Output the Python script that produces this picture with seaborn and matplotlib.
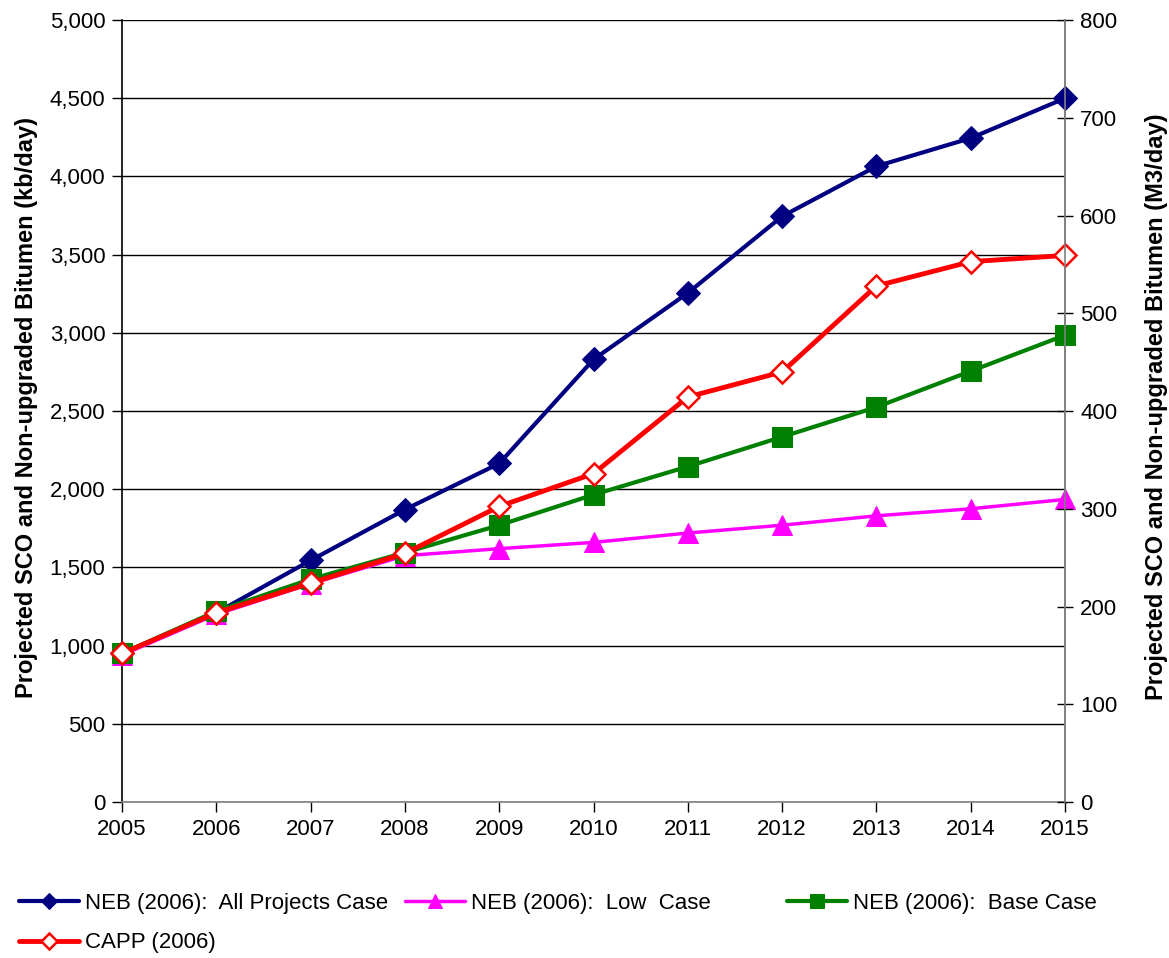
import matplotlib
matplotlib.use("Agg")
import matplotlib.pyplot as plt
from matplotlib.ticker import FuncFormatter, MultipleLocator
import seaborn as sns
import pandas as pd

years = [2005, 2006, 2007, 2008, 2009, 2010, 2011, 2012, 2013, 2014, 2015]
neb_all_projects = [950, 1210, 1545, 1870, 2165, 2830, 3255, 3745, 4065, 4245, 4500]
neb_low = [940, 1200, 1395, 1575, 1620, 1660, 1720, 1770, 1830, 1875, 1935]
neb_base = [950, 1220, 1425, 1595, 1770, 1965, 2145, 2335, 2525, 2755, 2985]
capp = [950, 1210, 1400, 1590, 1890, 2100, 2590, 2750, 3300, 3455, 3495]

labels = ["NEB (2006):  All Projects Case", "NEB (2006):  Low  Case",
          "NEB (2006):  Base Case", "CAPP (2006)"]

sns.set_theme(style="white")
plt.rcParams["font.family"] = ["Liberation Sans", "DejaVu Sans"]
plt.rcParams.update({"text.color": "black", "axes.labelcolor": "black",
                     "xtick.color": "black", "ytick.color": "black"})

df = pd.DataFrame({"year": years, "all": neb_all_projects, "low": neb_low,
                   "base": neb_base, "capp": capp})

fig = plt.figure(figsize=(11.69, 9.58), dpi=100)
ax = fig.add_axes([0.1044, 0.1628, 0.8067, 0.8163])

styles = [
    ("all", dict(color="#000080", lw=3.0, marker="D", markersize=12,
                 markerfacecolor="#000080", markeredgecolor="#000080")),
    ("low", dict(color="#FF00FF", lw=2.5, marker="^", markersize=15,
                 markerfacecolor="#FF00FF", markeredgecolor="#FF00FF")),
    ("base", dict(color="#008000", lw=3.0, marker="s", markersize=14,
                  markerfacecolor="#008000", markeredgecolor="#008000")),
    ("capp", dict(color="#FF0000", lw=3.5, marker="D", markersize=11,
                  markerfacecolor="white", markeredgecolor="#FF0000",
                  markeredgewidth=1.8)),
]
for (col, kw), lab in zip(styles, labels):
    sns.lineplot(data=df, x="year", y=col, ax=ax, clip_on=False, zorder=3,
                 label=lab, **kw)

handles, hl = ax.get_legend_handles_labels()
ax.get_legend().remove()

ax.set_xlim(2005, 2015)
ax.set_ylim(0, 5000)
ax.xaxis.set_major_locator(MultipleLocator(1))
ax.yaxis.set_major_locator(MultipleLocator(500))
ax.yaxis.set_major_formatter(FuncFormatter(lambda v, p: f"{int(v):,}"))
ax.grid(axis="y", color="black", lw=1.0)
ax.set_axisbelow(True)
ax.set_xlabel("")
ax.set_ylabel("Projected SCO and Non-upgraded Bitumen (kb/day)",
              fontsize=17, fontweight="bold")
ax.yaxis.set_label_coords(-0.089, 0.505)
ax.tick_params(axis="both", labelsize=16, direction="out", length=7,
               width=1, color="black", left=True, bottom=True, pad=5)
ax.spines["top"].set_visible(False)
ax.spines["left"].set_color("black")
ax.spines["bottom"].set_color("#808080")
ax.spines["right"].set_color("#808080")
for s in ax.spines.values():
    s.set_linewidth(1.2)

ax2 = ax.twinx()
ax2.set_ylim(0, 800)
ax2.yaxis.set_major_locator(MultipleLocator(100))
ax2.tick_params(axis="y", labelsize=16, direction="inout", length=12,
                width=1, color="black", right=True, pad=5)
ax2.set_ylabel("Projected SCO and Non-upgraded Bitumen (M3/day)",
               fontsize=17, fontweight="bold")
ax2.yaxis.set_label_coords(1.0848, 0.505)
for s in ["top", "left", "bottom"]:
    ax2.spines[s].set_visible(False)
ax2.spines["right"].set_color("#808080")
ax2.spines["right"].set_linewidth(1.2)
ax2.grid(False)

# legend entries laid out in a 3-column grid below the plot
positions = [(0.0163, 0.0574), (0.3465, 0.0574), (0.6732, 0.0574), (0.0163, 0.0157)]
for h, lab, (x, y) in zip(handles, hl, positions):
    fig.legend(handles=[h], labels=[lab], loc="center left",
               bbox_to_anchor=(x, y), frameon=False, fontsize=16,
               handlelength=2.7, handletextpad=0.27, borderaxespad=0,
               borderpad=0, markerscale=0.7)

fig.savefig("out.png", dpi=100)
